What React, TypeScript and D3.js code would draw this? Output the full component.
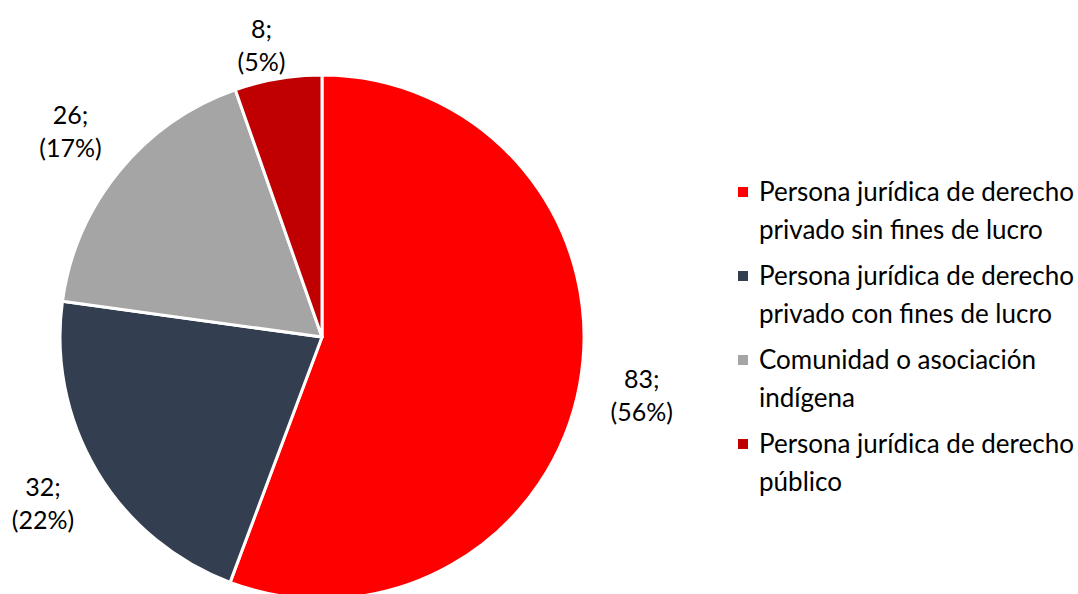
import React from "react";
import * as d3 from "d3";

const categories = [
  "Persona jurídica de derecho privado sin fines de lucro",
  "Persona jurídica de derecho privado con fines de lucro",
  "Comunidad o asociación indígena",
  "Persona jurídica de derecho público",
];
const legendLines = [
  ["Persona jurídica de derecho", "privado sin fines de lucro"],
  ["Persona jurídica de derecho", "privado con fines de lucro"],
  ["Comunidad o asociación", "indígena"],
  ["Persona jurídica de derecho", "público"],
];
const values = [83, 32, 26, 8];
const percents = ["56%", "22%", "17%", "5%"];
const colors = ["#FF0000", "#333F50", "#A5A5A5", "#C00000"];

const W = 1078;
const H = 594;
const FONT = "Lato, 'Noto Sans', sans-serif";

export default function App() {
  const cx = 322;
  const cy = 337;
  const R = 262;
  const pie = d3.pie<number>().sort(null).value((d) => d)(values);
  const arc = d3.arc<d3.PieArcDatum<number>>().innerRadius(0).outerRadius(R);
  const labelR = R * 1.24;

  return (
    <svg width={W} height={H} style={{ position: "absolute", left: 0, top: 0, background: "#fff" }}>
      <g transform={`translate(${cx},${cy})`}>
        {pie.map((p, i) => (
          <path key={i} d={arc(p) || ""} fill={colors[i]} stroke="#fff" strokeWidth={3} strokeLinejoin="round" />
        ))}
        {pie.map((p, i) => {
          const a = (p.startAngle + p.endAngle) / 2;
          let x = labelR * Math.sin(a);
          let y = -labelR * Math.cos(a);
          if (cy + y < 45) {
            y = 45 - cy;
            x = x - 6;
          }
          return (
            <text key={i} x={x} y={y} textAnchor="middle" fontFamily={FONT} fontSize={25} fill="#000">
              <tspan x={x} dy={-7}>{`${values[i]};`}</tspan>
              <tspan x={x} dy={33}>{`(${percents[i]})`}</tspan>
            </text>
          );
        })}
      </g>
      <g>
        {categories.map((c, i) => {
          const y0 = 192 + i * 84;
          return (
            <g key={c}>
              <rect x={738} y={y0 - 5} width={10} height={10} fill={colors[i]} />
              {legendLines[i].map((ln, j) => (
                <text key={j} x={759} y={y0 + j * 38 + 9} fontFamily={FONT} fontSize={26} fill="#000">
                  {ln}
                </text>
              ))}
            </g>
          );
        })}
      </g>
    </svg>
  );
}
